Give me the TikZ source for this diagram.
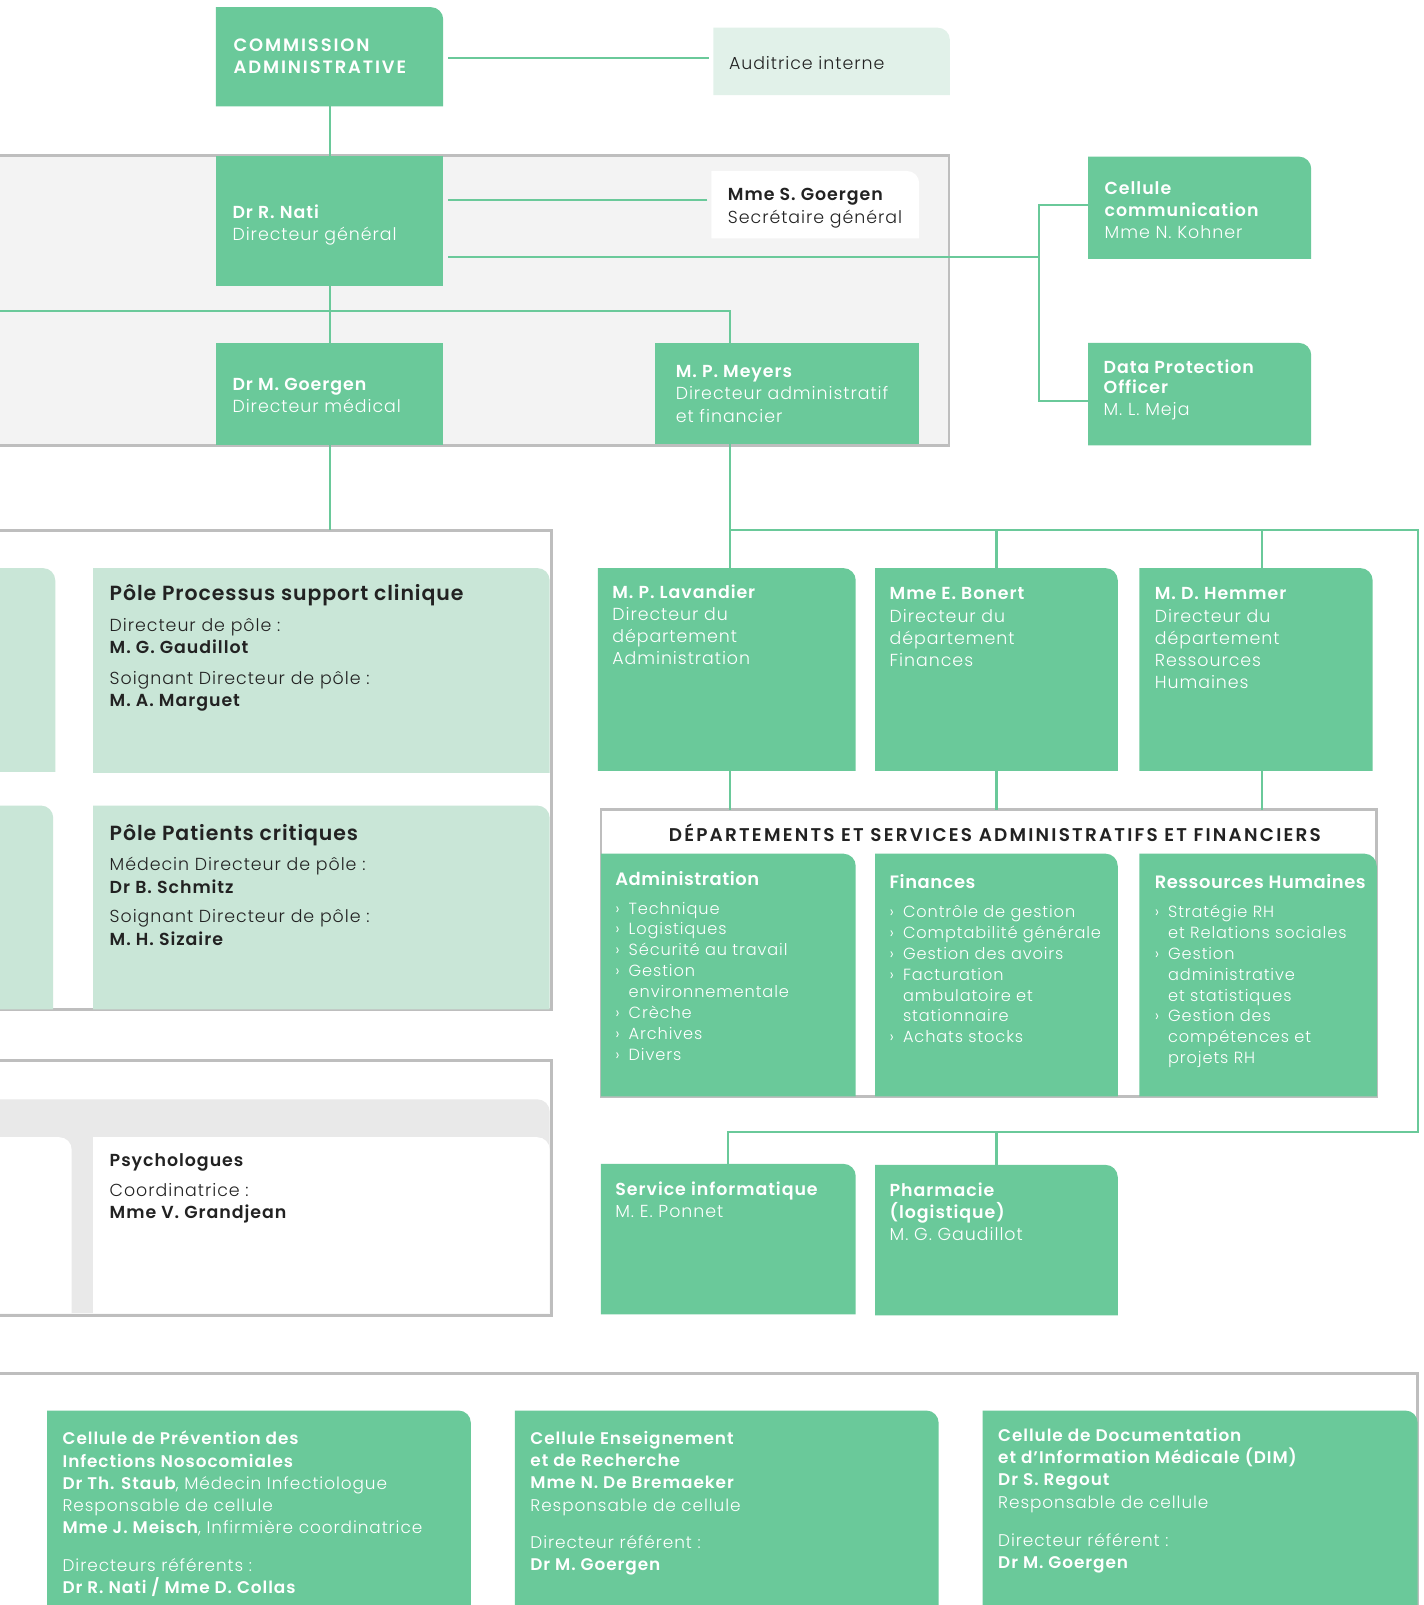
\documentclass[tikz,border=0pt]{standalone}
\usepackage{fontspec}
\setmainfont{Poppins}[UprightFont=* Light, BoldFont=* SemiBold, LetterSpace=5.5]
\newfontfamily\capsfont{Poppins}[UprightFont=* Light, BoldFont=* SemiBold, LetterSpace=10.5]
\newfontfamily\deptfont{Poppins}[UprightFont=* Light, BoldFont=* SemiBold, LetterSpace=12]
\newfontfamily\polefont{Poppins}[UprightFont=* Light, BoldFont=* SemiBold, LetterSpace=4.5]
\newfontfamily\headfont{Poppins}[UprightFont=* Light, BoldFont=* SemiBold, LetterSpace=3]
\usepackage{xcolor}
\usepackage{tikz}
\usetikzlibrary{positioning}
\definecolor{chlgreen}{RGB}{106,201,154}
\definecolor{chlpale}{RGB}{201,230,215}
\definecolor{chlmint}{RGB}{225,241,233}
\definecolor{boardgray}{RGB}{243,243,243}
\definecolor{bandgray}{RGB}{233,233,233}
\definecolor{framegray}{RGB}{190,190,190}
\definecolor{inkdark}{RGB}{34,34,34}
\newcommand{\txtsize}{\fontsize{17}{21.7}\selectfont}
\newcommand{\celsize}{\fontsize{16.5}{21.7}\selectfont}
\newcommand{\lstsize}{\fontsize{15.8}{20.5}\selectfont}
\newcommand{\polesize}{\polefont\fontsize{20}{21.7}\selectfont}
\newcommand{\headsize}{\headfont\fontsize{17.5}{21.7}\selectfont}
\newcommand{\itm}[1]{\makebox[13pt][l]{›}#1}
\newcommand{\cnt}[1]{\hspace*{13pt}#1}
\tikzset{
  box/.style={rectangle, anchor=north west, inner sep=0pt, outer sep=0pt},
  sqbox/.style={box, fill=chlgreen},
  rcbox/.style={box, path picture={
      \fill[#1] (path picture bounding box.south west)
        |- ([xshift=-12pt]path picture bounding box.north east)
        arc[start angle=90, end angle=0, radius=12pt]
        -- (path picture bounding box.south east) -- cycle;}},
  frame/.style={box, draw=framegray, line width=2.5pt, fill=white},
  wtxt/.style={anchor=north west, inner sep=0pt, align=left, text=white,
               font=\txtsize},
  dtxt/.style={wtxt, text=inkdark},
  link/.style={draw=chlgreen, line width=2pt}
}
\begin{document}
\begin{tikzpicture}[x=1pt, y=-1pt]
  \useasboundingbox (0,0) rectangle (1391,1568);

  %% ── Frames ──────────────────────────────────────────────────────────────
  \node[frame, fill=boardgray, minimum width=937pt, minimum height=283pt] (board) at (-10,152) {};
  \node[frame, minimum width=549pt, minimum height=468pt] (poles) at (-10,518) {};
  \node[frame, minimum width=549pt, minimum height=249pt] (psygrp) at (-10,1036) {};
  \node[frame, minimum width=758pt, minimum height=280pt] (dept) at (587,791) {};
  \node[frame, minimum width=1395pt, minimum height=260pt] (cells) at (-10,1342) {};

  %% ── Direction ───────────────────────────────────────────────────────────
  \node[rcbox=chlgreen, minimum width=222pt, minimum height=97pt] (comm) at (211,7) {};
  \node[wtxt, font=\capsfont\fontsize{17.5}{21.7}\selectfont,
        below right=31pt and 17pt of comm.north west] (commlbl)
        {\textbf{COMMISSION}\\\textbf{ADMINISTRATIVE}};
  \node[rcbox=chlmint, minimum width=231pt, minimum height=66pt] (audit) at (697,27) {};
  \node[dtxt, below right=28pt and 15pt of audit.north west] (auditlbl) {Auditrice interne};

  \node[sqbox, minimum width=222pt, minimum height=127pt] (nati) at (211,152) {};
  \node[wtxt, below right=48pt and 16pt of nati.north west] (natilbl)
        {\textbf{Dr R. Nati}\\Directeur général};
  \node[rcbox=white, minimum width=203pt, minimum height=66pt] (sec) at (695,167) {};
  \node[dtxt, below right=17pt and 16pt of sec.north west] (seclbl)
        {\textbf{Mme S. Goergen}\\Secrétaire général};

  \node[rcbox=chlgreen, minimum width=218pt, minimum height=100pt] (cellcom) at (1063,153) {};
  \node[wtxt, below right=24pt and 16pt of cellcom.north west] (cellcomlbl)
        {\textbf{Cellule}\\\textbf{communication}\\Mme N. Kohner};
  \node[rcbox=chlgreen, minimum width=218pt, minimum height=100pt] (dpo) at (1063,335) {};
  \node[wtxt, below right=16pt and 15pt of dpo.north west] (dpolbl)
        {\textbf{Data Protection}\\[-2pt]\textbf{Officer}\\M. L. Meja};

  \node[sqbox, minimum width=222pt, minimum height=100pt] (goergen) at (211,335) {};
  \node[wtxt, below right=34pt and 16pt of goergen.north west] (goergenlbl)
        {\textbf{Dr M. Goergen}\\Directeur médical};
  \node[sqbox, minimum width=258pt, minimum height=99pt] (meyers) at (640,335) {};
  \node[wtxt, below right=22pt and 20pt of meyers.north west] (meyerslbl)
        {\textbf{M. P. Meyers}\\Directeur administratif\\et financier};

  %% ── Pôles ───────────────────────────────────────────────────────────────
  \node[rcbox=chlpale, minimum width=74pt, minimum height=199pt] (poleA) at (-20,555) {};
  \node[rcbox=chlpale, minimum width=446pt, minimum height=200pt] (ppsc) at (91,555) {};
  \node[dtxt, below right=16pt and 16pt of ppsc.north west] (ppsclbl)
        {{\polesize\textbf{Pôle Processus support clinique}}\\[8.3pt]
         Directeur de pôle :\\\textbf{M. G. Gaudillot}\\[8pt]
         Soignant Directeur de pôle :\\\textbf{M. A. Marguet}};
  \node[rcbox=chlpale, minimum width=72pt, minimum height=199pt] (poleB) at (-20,787) {};
  \node[rcbox=chlpale, minimum width=446pt, minimum height=199pt] (ppc) at (91,787) {};
  \node[dtxt, below right=18pt and 16pt of ppc.north west] (ppclbl)
        {{\polesize\textbf{Pôle Patients critiques}}\\[8.3pt]
         Médecin Directeur de pôle :\\\textbf{Dr B. Schmitz}\\[7.3pt]
         Soignant Directeur de pôle :\\\textbf{M. H. Sizaire}};

  %% ── Psychologues ────────────────────────────────────────────────────────
  \node[rcbox=bandgray, minimum width=557pt, minimum height=209pt] (band) at (-20,1074) {};
  \node[rcbox=white, minimum width=90pt, minimum height=172pt] (psyA) at (-20,1111) {};
  \node[rcbox=white, minimum width=446pt, minimum height=172pt] (psych) at (91,1111) {};
  \node[dtxt, below right=16pt and 16pt of psych.north west] (psychlbl)
        {\textbf{Psychologues}\\[7.3pt]Coordinatrice :\\\textbf{Mme V. Grandjean}};

  %% ── Départements ────────────────────────────────────────────────────────
  \node[rcbox=chlgreen, minimum width=252pt, minimum height=198pt] (lav) at (584,555) {};
  \node[wtxt, below right=16pt and 14pt of lav.north west] (lavlbl)
        {\textbf{M. P. Lavandier}\\Directeur du\\département\\Administration};
  \node[rcbox=chlgreen, minimum width=237pt, minimum height=198pt] (bon) at (855,555) {};
  \node[wtxt, below right=19pt and 14pt of bon.north west] (bonlbl)
        {\textbf{Mme E. Bonert}\\Directeur du\\département\\Finances};
  \node[rcbox=chlgreen, minimum width=228pt, minimum height=198pt] (hem) at (1113,555) {};
  \node[wtxt, below right=19pt and 15pt of hem.north west] (hemlbl)
        {\textbf{M. D. Hemmer}\\Directeur du\\département\\Ressources\\Humaines};

  \node[dtxt, font=\deptfont\fontsize{18}{21.7}\selectfont, below=14pt of dept.north,
        anchor=north, xshift=7pt] (deptlbl)
        {\textbf{DÉPARTEMENTS ET SERVICES ADMINISTRATIFS ET FINANCIERS}};
  \node[rcbox=chlgreen, minimum width=249pt, minimum height=237pt] (admin) at (587,834) {};
  \node[wtxt, font=\lstsize, below right=17pt and 14pt of admin.north west] (adminlbl)
        {{\headsize\textbf{Administration}}\\[7.5pt]
         \itm{Technique}\\\itm{Logistiques}\\\itm{Sécurité au travail}\\
         \itm{Gestion}\\\cnt{environnementale}\\\itm{Crèche}\\
         \itm{Archives}\\\itm{Divers}};
  \node[rcbox=chlgreen, minimum width=237pt, minimum height=237pt] (fin) at (855,834) {};
  \node[wtxt, font=\lstsize, below right=20pt and 14pt of fin.north west] (finlbl)
        {{\headsize\textbf{Finances}}\\[7.5pt]
         \itm{Contrôle de gestion}\\\itm{Comptabilité générale}\\
         \itm{Gestion des avoirs}\\\itm{Facturation}\\\cnt{ambulatoire et}\\
         \cnt{stationnaire}\\\itm{Achats stocks}};
  \node[rcbox=chlgreen, minimum width=232pt, minimum height=237pt] (rh) at (1113,834) {};
  \node[wtxt, font=\lstsize, below right=20pt and 15pt of rh.north west] (rhlbl)
        {{\headsize\textbf{Ressources Humaines}}\\[7.5pt]
         \itm{Stratégie RH}\\\cnt{et Relations sociales}\\\itm{Gestion}\\
         \cnt{administrative}\\\cnt{et statistiques}\\\itm{Gestion des}\\
         \cnt{compétences et}\\\cnt{projets RH}};

  \node[rcbox=chlgreen, minimum width=249pt, minimum height=147pt] (info) at (587,1137) {};
  \node[wtxt, below right=17pt and 14pt of info.north west] (infolbl)
        {\textbf{Service informatique}\\M. E. Ponnet};
  \node[rcbox=chlgreen, minimum width=237pt, minimum height=147pt] (pharm) at (855,1138) {};
  \node[wtxt, below right=17pt and 14pt of pharm.north west] (pharmlbl)
        {\textbf{Pharmacie}\\\textbf{(logistique)}\\M. G. Gaudillot};

  %% ── Cellules ────────────────────────────────────────────────────────────
  \node[rcbox=chlgreen, minimum width=414pt, minimum height=200pt] (cpin) at (46,1378) {};
  \node[wtxt, font=\celsize, below right=20pt and 15pt of cpin.north west] (cpinlbl)
        {\textbf{Cellule de Prévention des}\\\textbf{Infections Nosocomiales}\\
         \textbf{Dr Th. Staub}, Médecin Infectiologue\\Responsable de cellule\\
         \textbf{Mme J. Meisch}, Infirmière coordinatrice\\[15pt]
         Directeurs référents :\\\textbf{Dr R. Nati / Mme D. Collas}};
  \node[rcbox=chlgreen, minimum width=414pt, minimum height=200pt] (cer) at (503,1378) {};
  \node[wtxt, font=\celsize, below right=20pt and 15pt of cer.north west] (cerlbl)
        {\textbf{Cellule Enseignement}\\\textbf{et de Recherche}\\
         \textbf{Mme N. De Bremaeker}\\Responsable de cellule\\[15pt]
         Directeur référent :\\\textbf{Dr M. Goergen}};
  \node[rcbox=chlgreen, minimum width=425pt, minimum height=200pt] (dim) at (960,1378) {};
  \node[wtxt, font=\celsize, below right=17pt and 15pt of dim.north west] (dimlbl)
        {\textbf{Cellule de Documentation}\\\textbf{et d’Information Médicale (DIM)}\\
         \textbf{Dr S. Regout}\\Responsable de cellule\\[16pt]
         Directeur référent :\\\textbf{Dr M. Goergen}};

  %% ── Links ───────────────────────────────────────────────────────────────
  \coordinate (hub) at (1015,251);
  \coordinate (lft) at (-5,304);
  \coordinate (busR) at (1385,518);
  \coordinate (busB) at (1385,1106);

  \draw[link, shorten <=5pt, shorten >=4pt] ([yshift=-1.5pt]comm.east) -- ([yshift=-1.5pt]comm.east -| audit.west);
  \draw[link] (comm.south) -- (nati.north);
  \draw[link, shorten <=4pt, shorten >=5pt] ([yshift=5pt]sec.west) -- ([yshift=5pt]sec.west -| nati.east);
  \draw[link, shorten <=5pt] (hub -| nati.east) -- (hub);
  \draw[link] ([yshift=3pt]cellcom.west) -| (hub) |- ([yshift=-7pt]dpo.west);

  \draw[link] (nati.south) -- (goergen.north);
  \draw[link] (lft) -| ([xshift=-56pt]meyers.north);
  \draw[link] (goergen.south) -- (goergen.south |- poles.north);

  \draw[link] ([xshift=-56pt]meyers.south) |- (busR) -- (busB) -| (info.north);
  \draw[link] (pharm.north) -- (pharm.north |- busB);
  \draw[link] ([xshift=3pt]lav.north) -- ([xshift=3pt]lav.north |- busR);
  \draw[link] (bon.north) -- (bon.north |- busR);
  \draw[link] ([xshift=6pt]hem.north) -- ([xshift=6pt]hem.north |- busR);
  \draw[link] ([xshift=3pt]lav.south) -- ([xshift=3pt]lav.south |- dept.north);
  \draw[link] (bon.south) -- (bon.south |- dept.north);
  \draw[link] ([xshift=6pt]hem.south) -- ([xshift=6pt]hem.south |- dept.north);

\end{tikzpicture}
\end{document}
